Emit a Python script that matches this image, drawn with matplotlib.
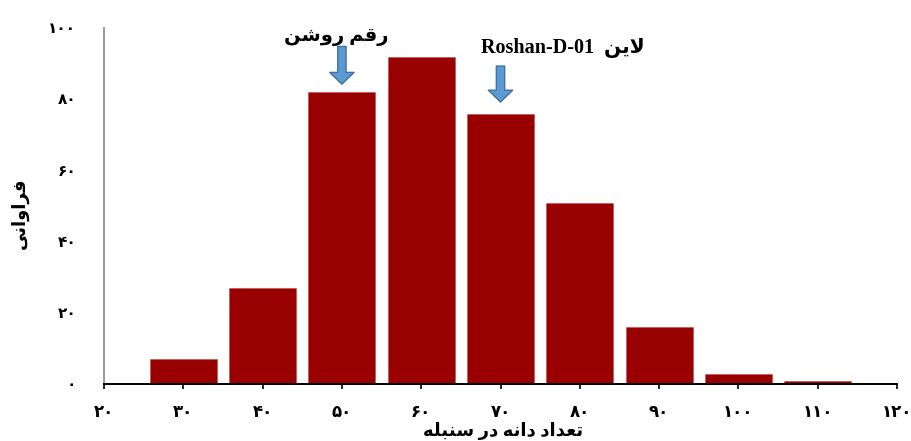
import unicodedata
import matplotlib
matplotlib.use("Agg")
import matplotlib.pyplot as plt

# --- data ---
bins = [30, 40, 50, 60, 70, 80, 90, 100, 110]
freq = [7, 27, 82, 92, 76, 51, 16, 3, 1]
x_ticks = [20, 30, 40, 50, 60, 70, 80, 90, 100, 110, 120]
y_ticks = [0, 20, 40, 60, 80, 100]
marked = [50, 70]                       # cultivar / line positions
marked_labels = ["رقم روشن", "لاین"]
line_name = "Roshan-D-01"

FONT = ["Liberation Serif", "DejaVu Sans"]
BAR_COLOR = "#990000"
ARROW_FC = "#5B9BD5"
ARROW_EC = "#41719C"

RIGHT_ONLY = set("اآأإدذرزژو")
FA_DIGITS = str.maketrans("0123456789", "۰۱۲۳۴۵۶۷۸۹")


def is_letter(c):
    return "\u0600" <= c <= "\u06ff" and unicodedata.category(c) == "Lo"


def form_of(c, form):
    try:
        return unicodedata.lookup(unicodedata.name(c) + " " + form + " FORM")
    except KeyError:
        return c


def fa(text):
    """Join Persian letters and reverse them, matplotlib has no bidi."""
    out = []
    i = 0
    while i < len(text):
        c = text[i]
        if not is_letter(c):
            out.append(c)
            i += 1
            continue
        prev = text[i - 1] if i > 0 else ""
        joins_prev = is_letter(prev) and prev not in RIGHT_ONLY
        if c == "ل" and i + 1 < len(text) and text[i + 1] == "ا":
            name = "ARABIC LIGATURE LAM WITH ALEF " + ("FINAL" if joins_prev else "ISOLATED") + " FORM"
            out.append(unicodedata.lookup(name))
            i += 2
            continue
        nxt = text[i + 1] if i + 1 < len(text) else ""
        joins_next = c not in RIGHT_ONLY and is_letter(nxt)
        if joins_prev and joins_next:
            out.append(form_of(c, "MEDIAL"))
        elif joins_prev:
            out.append(form_of(c, "FINAL"))
        elif joins_next:
            out.append(form_of(c, "INITIAL"))
        else:
            out.append(form_of(c, "ISOLATED"))
        i += 1
    return "".join(reversed(out))


def fa_num(v):
    return str(v).translate(FA_DIGITS)


fig = plt.figure(figsize=(9.11, 4.41), dpi=100)
ax = fig.add_axes([104 / 911, 1 - 384.3 / 441, 793 / 911, 356 / 441])

ax.bar(bins, freq, width=8.45, color=BAR_COLOR, edgecolor="#c24a4a", linewidth=0.4)

ax.set_xlim(20, 120)
ax.set_ylim(0, 100)
ax.set_xticks(x_ticks)
ax.set_xticklabels([fa_num(v) for v in x_ticks], family=FONT, fontsize=12, fontweight="bold")
ax.set_yticks(y_ticks)
ax.set_yticklabels([fa_num(v) for v in y_ticks], family=FONT, fontsize=11, fontweight="bold")
ax.tick_params(axis="x", direction="out", length=3.6, width=1.2, pad=11)
ax.tick_params(axis="y", length=0, pad=20)

for s in ("top", "right"):
    ax.spines[s].set_visible(False)
ax.spines["left"].set_color("#868686")
ax.spines["left"].set_linewidth(1.2)
ax.spines["bottom"].set_linewidth(1.4)

# arrows pointing at the two marked bars
arrow_tops = [94.9, 89.4]
arrow_tips = [84.3, 79.3]
for x, top, tip in zip(marked, arrow_tops, arrow_tips):
    ax.annotate("", xy=(x, tip), xytext=(x, top),
                arrowprops=dict(arrowstyle="simple,head_width=1.75,head_length=0.85,tail_width=0.6",
                                fc=ARROW_FC, ec=ARROW_EC, lw=1, shrinkA=0, shrinkB=0),
                annotation_clip=False)

ax.text(49.3, 97.4, fa(marked_labels[0]), ha="center", va="center",
        family=FONT, fontsize=14, fontweight="bold", clip_on=False)
ax.text(77.8, 94.6, line_name + "  " + fa(marked_labels[1]), ha="center", va="center",
        family=FONT, fontsize=14.5, fontweight="bold", clip_on=False)

fig.text(503 / 911, 1 - 431 / 441, fa("تعداد دانه در سنبله"), ha="center", va="center",
         family=FONT, fontsize=13, fontweight="bold")
fig.text(20 / 911, 1 - 213 / 441, fa("فراوانی"), ha="center", va="center", rotation=90,
         family=FONT, fontsize=13, fontweight="bold")

fig.savefig("out.png", dpi=100, facecolor="white")
